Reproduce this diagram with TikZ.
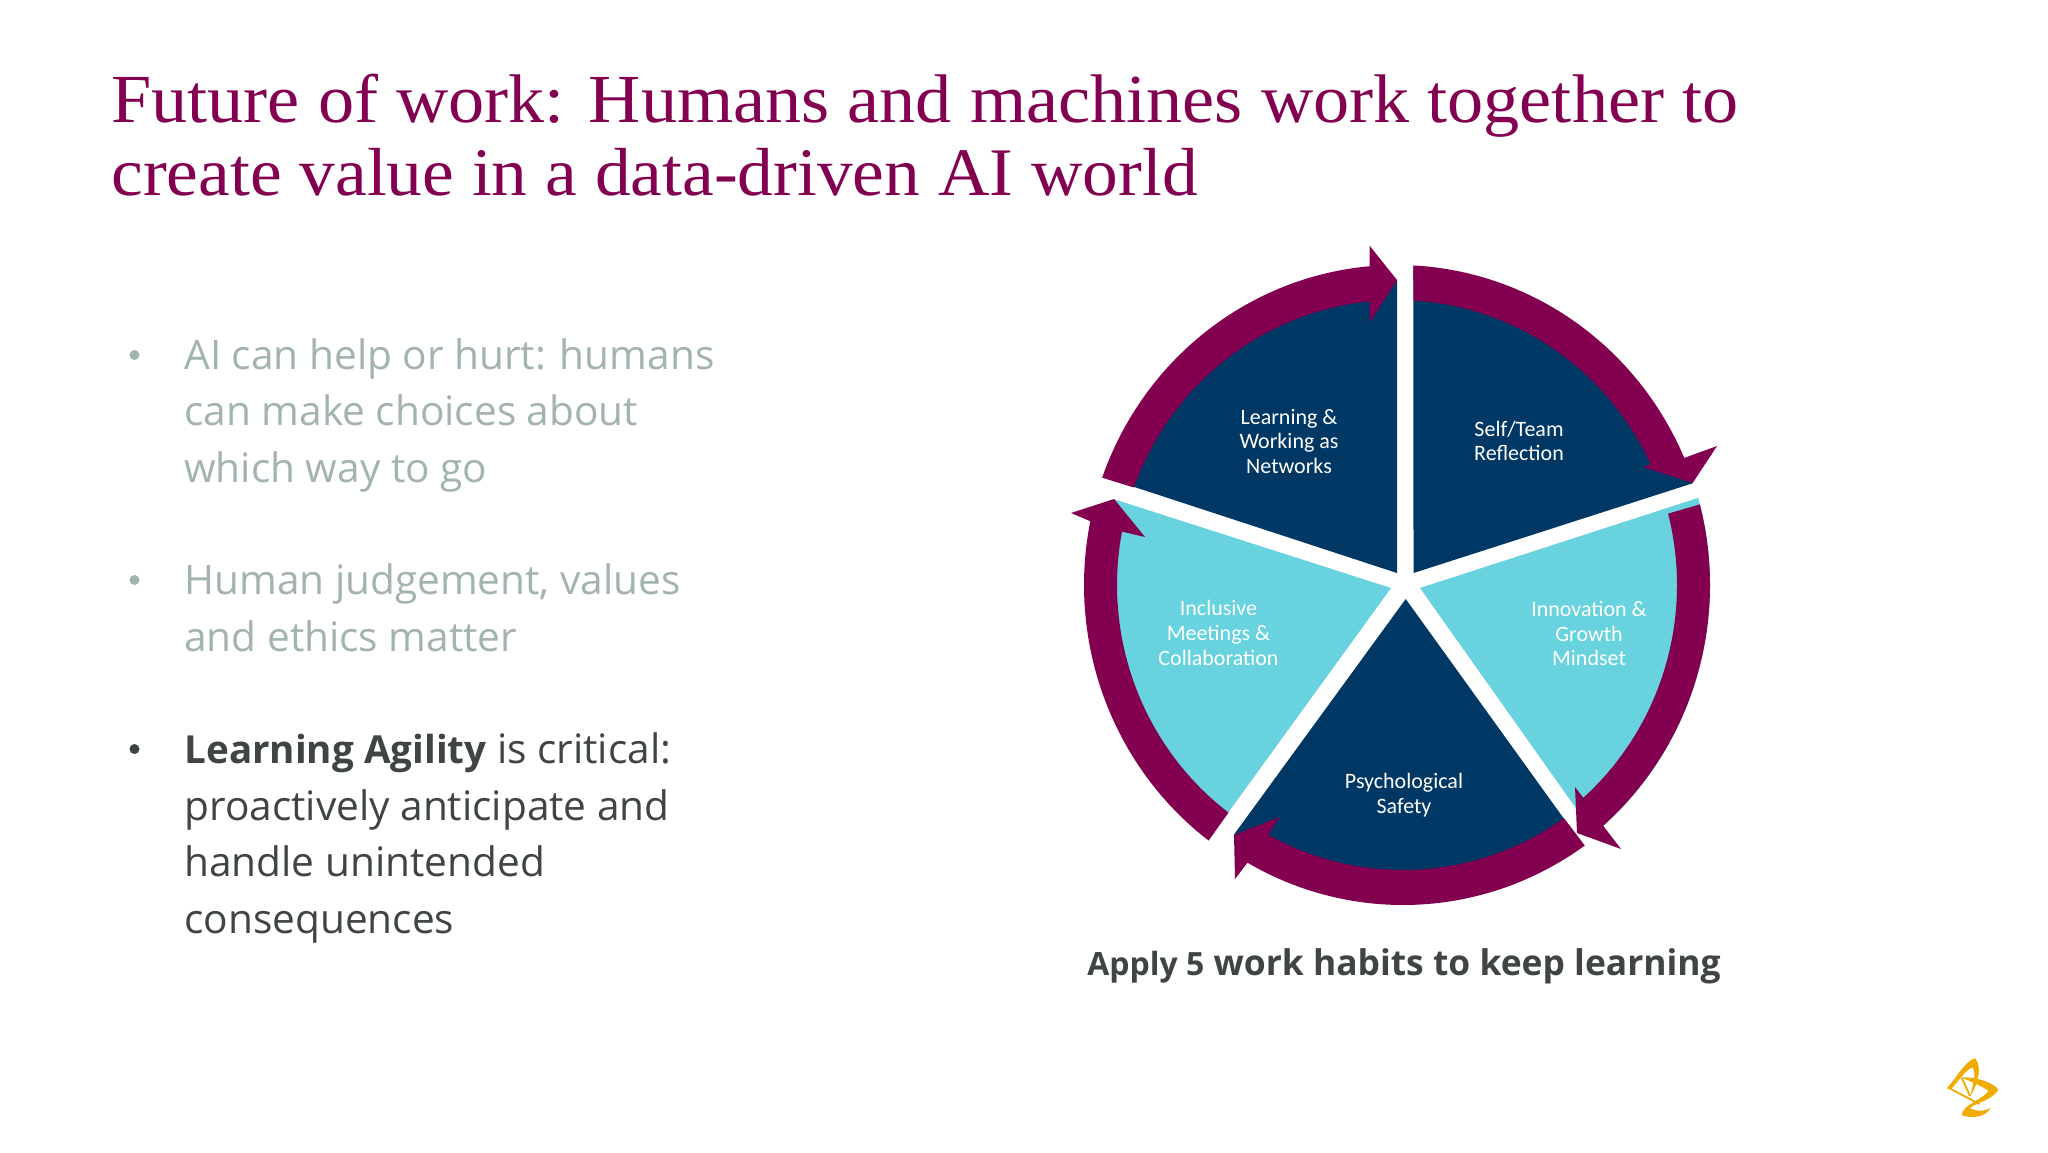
\documentclass[tikz,border=0pt]{standalone}
\usepackage{fontspec}
\setmainfont{Open Sans}
\newfontfamily\titlefont[FakeStretch=1.05]{Liberation Serif}
\newfontfamily\wheelfont{Carlito}
\definecolor{azplum}{HTML}{830051}
\definecolor{aznavy}{HTML}{003865}
\definecolor{azteal}{HTML}{68D2DF}
\definecolor{azgold}{HTML}{F0AB00}
\definecolor{azgrey}{HTML}{A3B4AF}
\definecolor{azdark}{HTML}{3F4444}
\begin{document}
\begin{tikzpicture}[x=0.5pt, y=-0.5pt,
    titleline/.style={anchor=base west, inner sep=0pt, text=azplum, font=\titlefont\fontsize{34.4}{36}\selectfont},
    bodyline/.style={anchor=base west, inner sep=0pt, font=\fontsize{20.3}{24}\selectfont},
    dotmark/.style={circle, inner sep=0pt, minimum size=5pt},
    wheellabel/.style={align=center, inner sep=0pt, text=white, font=\wheelfont\fontsize{11}{12.3}\selectfont},
    logostroke/.style={draw=azgold, line width=0.9pt}]
    \useasboundingbox (0,0) rectangle (2048,1152);
    \fill[white] (0,0) rectangle (2048,1152);
    \node[titleline] (title1) at (111,122) {Future of work: Humans and machines work together to};
    \node[titleline, font=\titlefont\fontsize{34}{36}\selectfont] (title2) at (111,195) {create value in a data-driven AI world};
    % bullets
    \foreach \idx/\ypos/\col in {1/355/azgrey,2/580/azgrey,3/749/azdark}{
        \node[dotmark, fill=\col] (dot\idx) at (134.5,\ypos) {};
    }
    \foreach \idx/\ypos/\col/\txt in {1/369/azgrey/AI can help or hurt: humans,
        2/425/azgrey/can make choices about,
        3/482/azgrey/which way to go,
        4/594/azgrey/{Human judgement, values},
        5/651/azgrey/and ethics matter,
        6/763/azdark/{{\bfseries\fontsize{19.3}{24}\selectfont Learning Agility} is critical:},
        7/820/azdark/proactively anticipate and,
        8/876/azdark/handle unintended,
        9/933/azdark/consequences}{
        \node[bodyline, text=\col] (line\idx) at (184,\ypos) {\txt};
    }
    % wheel
    \coordinate (c) at (1397,585);
    \foreach \wname/\col/\ax/\ay/\ta/\tb/\rx/\ry in {topright/aznavy/1413.5/573/-87/-18.6/312/319,
        topleft/aznavy/1397/573/200/270/300/305,
        left/azteal/1391/588/127/196.6/295/300,
        right/azteal/1420/588/-15.8/51/313/320,
        bottom/aznavy/1405.7/599/54/123.6/295/300}{
        \fill[\col] (\ax,\ay) -- ([shift={(\ta:\rx\space and \ry)}]c)
            arc[start angle=\ta, end angle=\tb, x radius=\rx, y radius=\ry] -- cycle;
    }
    % arrows round the wheel
    \coordinate (hua) at (1717,446);   \coordinate (tipa) at (1692.6,483); \coordinate (hva) at (1643,467);
    \coordinate (hub) at (1621,849);   \coordinate (tipb) at (1577,833);   \coordinate (hvb) at (1575,787);
    \coordinate (huc) at (1235,879);   \coordinate (tipc) at (1234,835);   \coordinate (hvc) at (1279.6,817);
    \coordinate (hud) at (1071,513);   \coordinate (tipd) at (1114,499);   \coordinate (hvd) at (1145,537);
    \coordinate (hue) at (1369.6,245.7); \coordinate (tipe) at (1397,280); \coordinate (hve) at (1369.6,322.7);
    \foreach \arrowidx/\cx/\ta/\tb/\tc/\td in {a/1397/-87/-23.4/-25/-86.6,
        b/1397/-14.6/48.8/48.3/-14.5,
        c/1403/54.5/119.8/118.8/54.9,
        d/1397/127/191.5/190.8/127,
        e/1397/199.6/265/264.4/200}{
        \fill[azplum] ([shift={(\ta:313 and 320)}]\cx,585)
            arc[start angle=\ta, end angle=\tb, x radius=313, y radius=320]
            -- (hu\arrowidx) -- (tip\arrowidx) -- (hv\arrowidx)
            -- ([shift={(\tc:280 and 285)}]\cx,585)
            arc[start angle=\tc, end angle=\td, x radius=280, y radius=285] -- cycle;
    }
    \node[wheellabel] (learning) at (1289,441.5) {Learning \&\\Working as\\Networks};
    \node[wheellabel] (reflection) at (1519,441) {Self/Team\\Reflection};
    \node[wheellabel] (innovation) at (1589,633.5) {Innovation \&\\Growth\\Mindset};
    \node[wheellabel] (safety) at (1404,795) {Psychological\\Safety};
    \node[wheellabel] (inclusive) at (1218.5,633) {Inclusive\\Meetings \&\\Collaboration};
    \node[inner sep=0pt, text=azdark, font=\bfseries\fontsize{17.7}{21}\selectfont] (caption) at (1404,966.5)
        {{\fontsize{16}{21}\selectfont Apply 5} work habits to keep learning};
    % logo
    \begin{scope}[shift={(1920,1040)}, x=0.1667pt, y=-0.1667pt]
        \fill[azgold] (80,145) .. controls (105,120) and (135,62) .. (165,55)
            .. controls (185,75) and (178,125) .. (150,170)
            .. controls (162,125) and (168,100) .. (158,82)
            .. controls (135,90) and (115,125) .. (93,147) -- cycle;
        \fill[azgold] (125,112) .. controls (170,110) and (225,130) .. (235,150)
            .. controls (210,185) and (160,190) .. (150,205)
            .. controls (170,215) and (195,215) .. (212,203)
            .. controls (195,235) and (150,235) .. (125,225)
            .. controls (125,195) and (195,175) .. (205,152)
            .. controls (180,135) and (150,125) .. (125,112) -- cycle;
        \draw[logostroke] (85,143) -- (178,192);
        \draw[logostroke] (125,113) -- (150,168);
    \end{scope}
\end{tikzpicture}
\end{document}
